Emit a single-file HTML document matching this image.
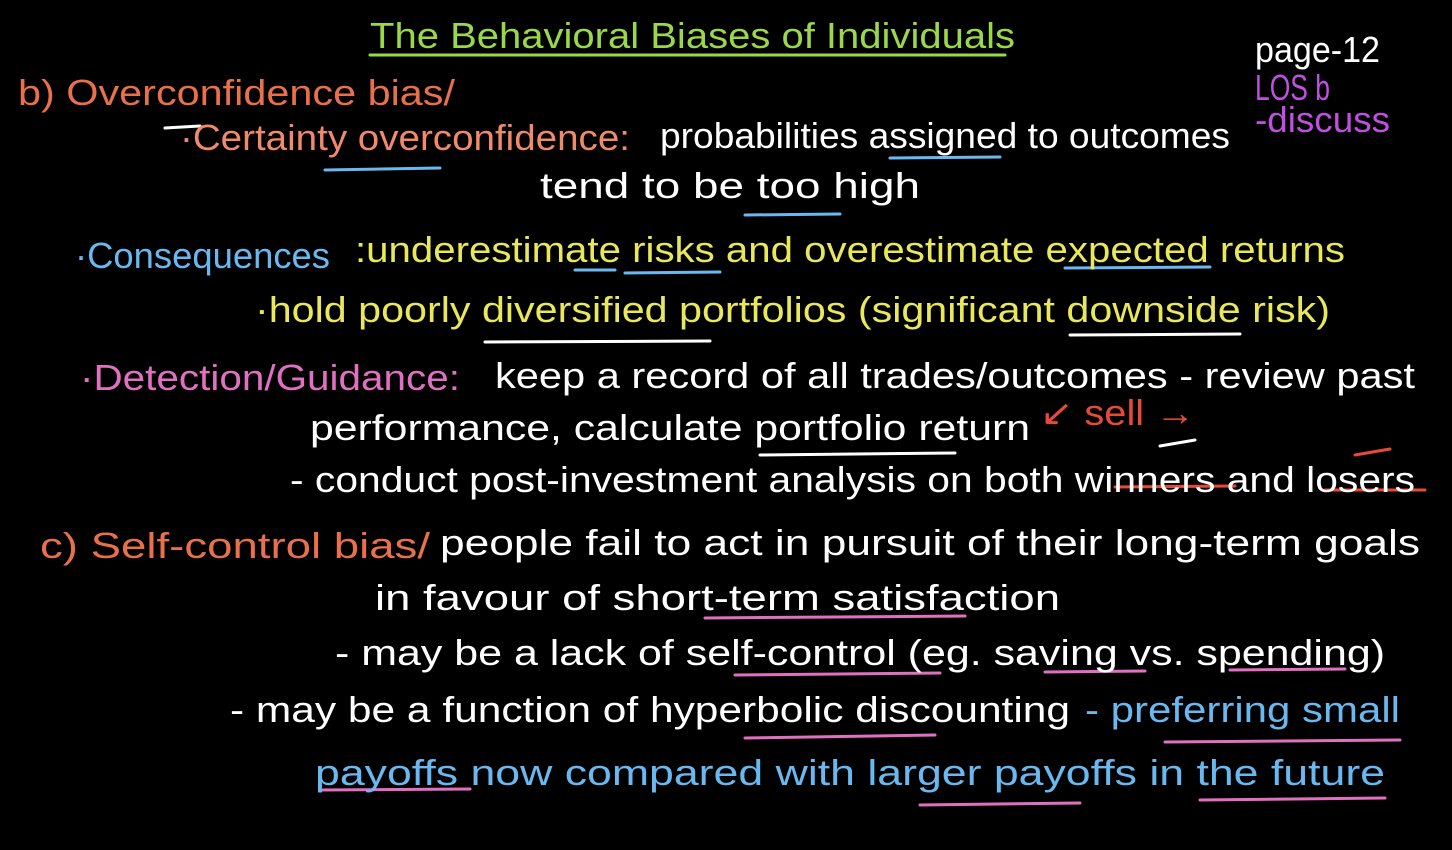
<!DOCTYPE html>
<html><head><meta charset="utf-8"><style>
html,body{margin:0;padding:0;background:#000;width:1452px;height:850px;overflow:hidden}
svg{display:block}
text{font-family:"Liberation Sans",sans-serif;font-size:36px}
</style></head><body>
<svg width="1452" height="850" viewBox="0 0 1452 850">
<rect width="1452" height="850" fill="#000"/>
<g stroke-linecap="round" fill="none" stroke-width="3">
<line x1="370" y1="55" x2="1005" y2="55" stroke="#9ad84a"/>
<line x1="165" y1="128" x2="200" y2="126" stroke="#fff"/>
<line x1="325" y1="170" x2="440" y2="168" stroke="#6ab8f0"/>
<line x1="890" y1="158" x2="1000" y2="157" stroke="#6ab8f0"/>
<line x1="745" y1="215" x2="840" y2="214" stroke="#6ab8f0"/>
<line x1="575" y1="270" x2="615" y2="270" stroke="#6ab8f0"/>
<line x1="625" y1="273" x2="720" y2="272" stroke="#6ab8f0"/>
<line x1="1065" y1="268" x2="1210" y2="267" stroke="#6ab8f0"/>
<line x1="485" y1="342" x2="710" y2="341" stroke="#fff"/>
<line x1="1070" y1="335" x2="1240" y2="334" stroke="#fff"/>
<line x1="760" y1="455" x2="955" y2="453" stroke="#fff"/>
<line x1="1160" y1="446" x2="1195" y2="440" stroke="#fff"/>
<line x1="1115" y1="487" x2="1235" y2="486" stroke="#e84a3a"/>
<line x1="1325" y1="490" x2="1425" y2="490" stroke="#e84a3a"/>
<line x1="1355" y1="455" x2="1390" y2="449" stroke="#e84a3a"/>
<line x1="705" y1="618" x2="965" y2="616" stroke="#e070c0"/>
<line x1="735" y1="675" x2="940" y2="673" stroke="#e070c0"/>
<line x1="1045" y1="672" x2="1145" y2="671" stroke="#e070c0"/>
<line x1="1230" y1="670" x2="1345" y2="669" stroke="#e070c0"/>
<line x1="745" y1="738" x2="935" y2="735" stroke="#e070c0"/>
<line x1="1165" y1="742" x2="1400" y2="740" stroke="#e070c0"/>
<line x1="320" y1="790" x2="470" y2="789" stroke="#e070c0"/>
<line x1="920" y1="805" x2="1080" y2="803" stroke="#e070c0"/>
<line x1="1200" y1="800" x2="1385" y2="798" stroke="#e070c0"/>
</g>
<g lengthAdjust="spacingAndGlyphs">
<text x="370" y="48" fill="#9ad84a" textLength="645" lengthAdjust="spacingAndGlyphs">The Behavioral Biases of Individuals</text>
<text x="1255" y="62" fill="#fff" font-size="30" textLength="125" lengthAdjust="spacingAndGlyphs">page-12</text>
<text x="1255" y="100" fill="#c050e0" font-size="30" textLength="75" lengthAdjust="spacingAndGlyphs">LOS b</text>
<text x="1255" y="132" fill="#c050e0" font-size="30" textLength="135" lengthAdjust="spacingAndGlyphs">-discuss</text>
<text x="18" y="105" fill="#e8704a" textLength="437" lengthAdjust="spacingAndGlyphs">b) Overconfidence bias/</text>
<text x="180" y="150" fill="#f08a6a" textLength="450" lengthAdjust="spacingAndGlyphs">·Certainty overconfidence:</text>
<text x="660" y="148" fill="#fff" textLength="570" lengthAdjust="spacingAndGlyphs">probabilities assigned to outcomes</text>
<text x="540" y="198" fill="#fff" textLength="380" lengthAdjust="spacingAndGlyphs">tend to be too high</text>
<text x="75" y="268" fill="#6ab8f0" textLength="255" lengthAdjust="spacingAndGlyphs">·Consequences</text>
<text x="355" y="262" fill="#e8e85a" textLength="990" lengthAdjust="spacingAndGlyphs">:underestimate risks and overestimate expected returns</text>
<text x="255" y="322" fill="#e8e85a" textLength="1075" lengthAdjust="spacingAndGlyphs">·hold poorly diversified portfolios (significant downside risk)</text>
<text x="80" y="390" fill="#e070c0" textLength="380" lengthAdjust="spacingAndGlyphs">·Detection/Guidance:</text>
<text x="495" y="388" fill="#fff" textLength="920" lengthAdjust="spacingAndGlyphs">keep a record of all trades/outcomes - review past</text>
<text x="310" y="440" fill="#fff" textLength="720" lengthAdjust="spacingAndGlyphs">performance, calculate portfolio return</text>
<text x="1040" y="425" fill="#e84a3a" font-size="28" textLength="155" lengthAdjust="spacingAndGlyphs">↙ sell →</text>
<text x="290" y="492" fill="#fff" textLength="1125" lengthAdjust="spacingAndGlyphs">- conduct post-investment analysis on both winners and losers</text>
<text x="40" y="558" fill="#e8704a" textLength="390" lengthAdjust="spacingAndGlyphs">c) Self-control bias/</text>
<text x="440" y="555" fill="#fff" textLength="980" lengthAdjust="spacingAndGlyphs">people fail to act in pursuit of their long-term goals</text>
<text x="375" y="610" fill="#fff" textLength="685" lengthAdjust="spacingAndGlyphs">in favour of short-term satisfaction</text>
<text x="335" y="665" fill="#fff" textLength="1050" lengthAdjust="spacingAndGlyphs">- may be a lack of self-control (eg. saving vs. spending)</text>
<text x="230" y="722" fill="#fff" textLength="840" lengthAdjust="spacingAndGlyphs">- may be a function of hyperbolic discounting</text>
<text x="1085" y="722" fill="#6ab8f0" textLength="315" lengthAdjust="spacingAndGlyphs">- preferring small</text>
<text x="315" y="785" fill="#6ab8f0" textLength="1070" lengthAdjust="spacingAndGlyphs">payoffs now compared with larger payoffs in the future</text>
</g>
</svg>
</body></html>
